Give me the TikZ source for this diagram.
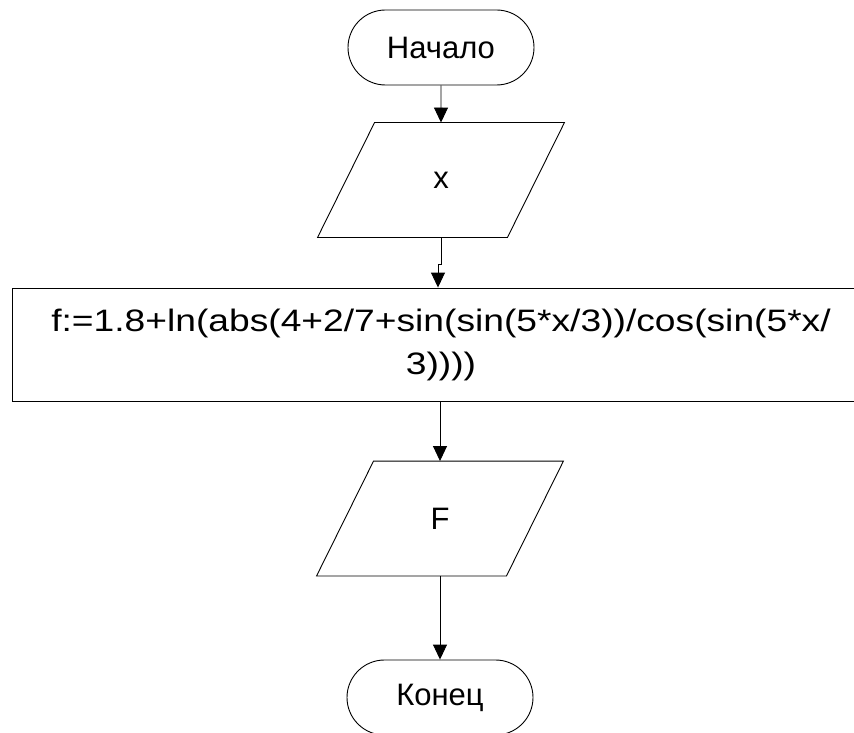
\documentclass[tikz,border=0pt]{standalone}
\usepackage{fontspec}
\usepackage{graphicx}
\setmainfont{Liberation Sans}
\usetikzlibrary{shapes.misc,arrows.meta}

\tikzset{
  term/.style={rounded rectangle, draw, minimum width=186pt, minimum height=75pt, inner sep=0pt},
  io/.style={rectangle, minimum width=189pt, minimum height=114pt, inner sep=0pt},
  proc/.style={rectangle, draw, minimum width=858pt, minimum height=113pt, inner sep=0pt},
  flow/.style={-{Triangle[length=15pt,width=14pt]}}
}

\begin{document}
\begin{tikzpicture}[x=1pt,y=-1pt,line width=0.9pt,font=\fontsize{31}{43}\selectfont]
      \useasboundingbox (0,0) rectangle (854,733);

      \node [term] (start) at (441,47.5) {Начало};
      \node [io] (in) at (441,180) {x};
      \node [proc] (calc) at (441,344.5)
        {\scalebox{1.2}[1]{\begin{tabular}{@{}c@{}}f:=1.8+ln(abs(4+2/7+sin(sin(5*x/3))/cos(sin(5*x/\\3))))\end{tabular}}};
      \node [io] (out) at (440,518.5) {F};
      \node [term] (stop) at (440,697.5) {Конец};

      \foreach \n in {in,out}
        \draw ([xshift=28.5pt]\n.north west) -- ([xshift=28.5pt]\n.north east)
          -- ([xshift=-28.5pt]\n.south east) -- ([xshift=-28.5pt]\n.south west) -- cycle;

      \coordinate (jog) at (438,264);

      \draw [flow] (start) -- (in);
      \draw [flow] (in.south) |- (jog) -- (jog |- calc.north);
      \draw [flow] (calc.south -| out.north) -- (out.north);
      \draw [flow] (out) -- (stop);
    \end{tikzpicture}
\end{document}
